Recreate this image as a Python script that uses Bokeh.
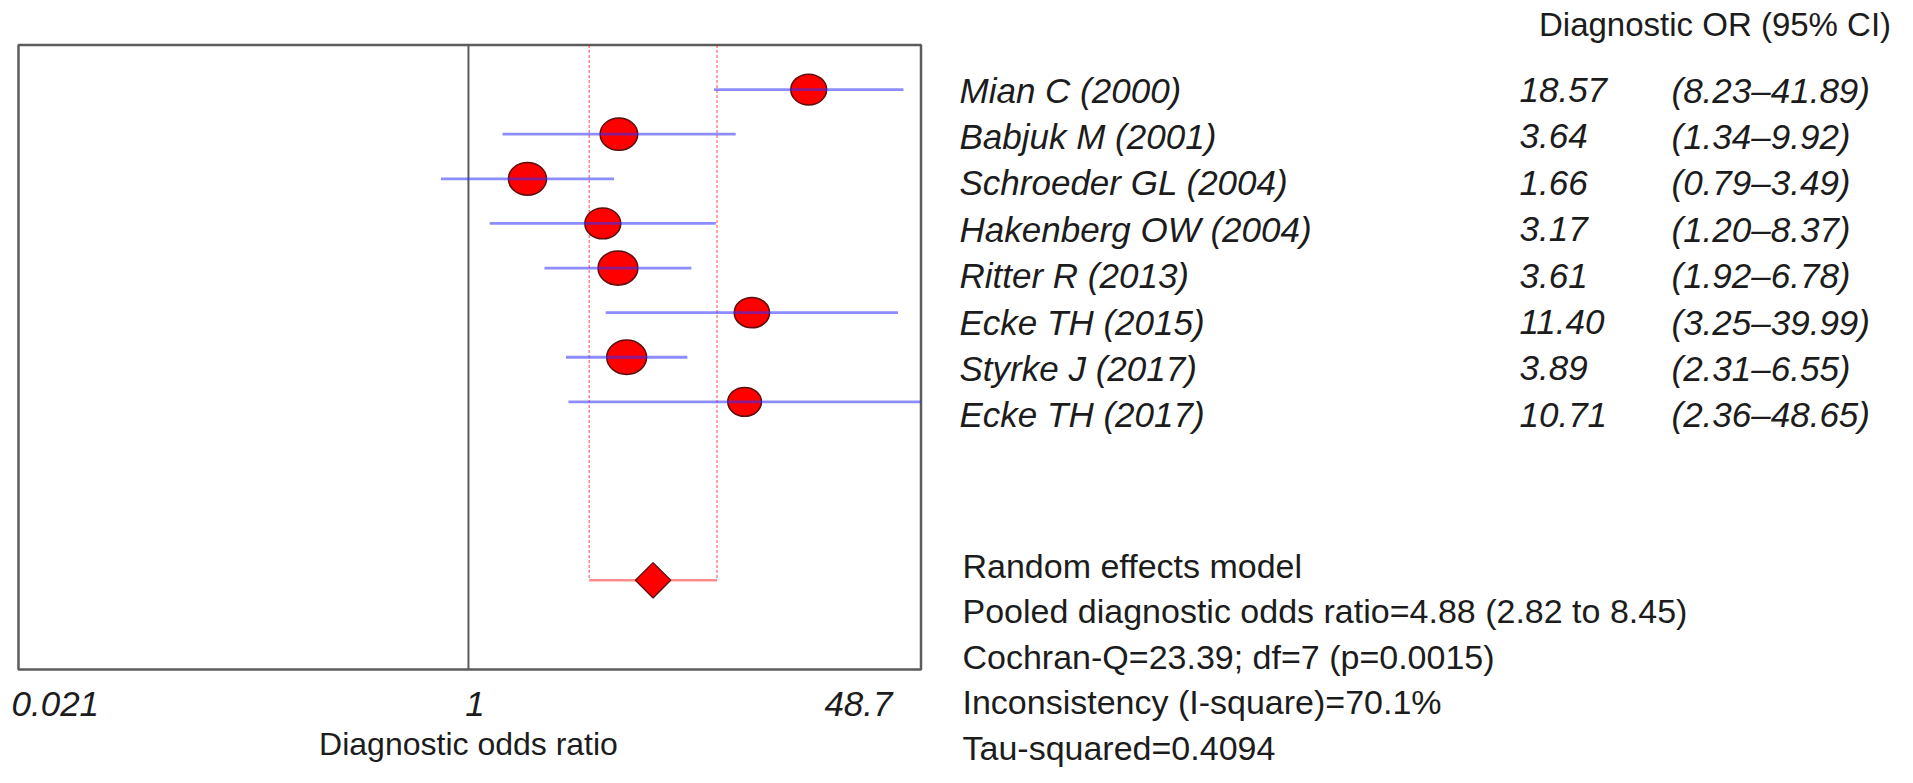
import numpy as np
from bokeh.plotting import figure
from bokeh.models import Range1d
from bokeh.embed import file_html
from bokeh.resources import INLINE
from bokeh.core.properties import value

# ---------------- data ----------------
studies = ["Mian C (2000)", "Babjuk M (2001)", "Schroeder GL (2004)", "Hakenberg OW (2004)",
           "Ritter R (2013)", "Ecke TH (2015)", "Styrke J (2017)", "Ecke TH (2017)"]
dor = [18.57, 3.64, 1.66, 3.17, 3.61, 11.40, 3.89, 10.71]
ci_low = [8.23, 1.34, 0.79, 1.20, 1.92, 3.25, 2.31, 2.36]
ci_high = [41.89, 9.92, 3.49, 8.37, 6.78, 39.99, 6.55, 48.65]
weights = [11.7, 12.8, 13.2, 11.7, 14.4, 11.3, 14.4, 10.3]   # relative study weights (%)
pooled, pooled_low, pooled_high = 4.88, 2.82, 8.45
axis_ticks = [0.021, 1, 48.7]
axis_tick_labels = ["0.021", "1", "48.7"]
axis_title = "Diagnostic odds ratio"
table_header = "Diagnostic OR (95% CI)"
summary_lines = ["Random effects model",
                 "Pooled diagnostic odds ratio=4.88 (2.82 to 8.45)",
                 "Cochran-Q=23.39; df=7 (p=0.0015)",
                 "Inconsistency (I-square)=70.1%",
                 "Tau-squared=0.4094"]

# ---------------- layout (canvas pixels) ----------------
W, H = 1897, 767
BOX_L, BOX_R = 18.0, 920.5
BOX_T, BOX_B = 44.5, 669.0
ROW_TOP, ROW_BOT = -1.0, 13.0
FS = 33        # regular text
FS_IT = 35     # italic text
FONT = "Liberation Sans"
TXT = "#1c1c1c"

lx0, lx1 = np.log10(axis_ticks[0]), np.log10(axis_ticks[-1])
kx = (BOX_R - BOX_L) / (lx1 - lx0)
ky = (BOX_B - BOX_T) / (ROW_BOT - ROW_TOP)


def xpx(px):
    return 10 ** (lx0 + (px - BOX_L) / kx)


def ypx(py):
    return ROW_TOP + (py - BOX_T) / ky


p = figure(width=W, height=H, x_axis_type="log", title=None,
           x_range=Range1d(xpx(0), xpx(W)), y_range=Range1d(ypx(H), ypx(0)),
           output_backend="svg", toolbar_location=None,
           x_axis_location=None, y_axis_location=None, min_border=0,
           outline_line_color=None, background_fill_color="white",
           border_fill_color="white")
for g in p.grid:
    g.visible = False

rows = list(range(len(studies)))
pooled_row = 11

# plot box and null line
p.quad(left=[axis_ticks[0]], right=[axis_ticks[-1]], top=[ROW_TOP], bottom=[ROW_BOT],
       fill_color=None, line_color="#5c5c5c", line_width=2.5)
p.segment(x0=[1], x1=[1], y0=[ROW_TOP], y1=[ROW_BOT], line_color="#5c5c5c", line_width=2)

# pooled CI guides
p.segment(x0=[pooled_low, pooled_high], x1=[pooled_low, pooled_high],
          y0=[ROW_TOP, ROW_TOP], y1=[pooled_row, pooled_row],
          line_color="red", line_alpha=0.55, line_width=1.3, line_dash="3 2")
p.segment(x0=[pooled_low], x1=[pooled_high], y0=[pooled_row], y1=[pooled_row],
          line_color="red", line_alpha=0.45, line_width=2.5)
p.scatter(x=[pooled], y=[pooled_row], marker="square", angle=np.pi / 4, size=25,
          fill_color="red", line_color="#5a1010", line_width=1.3)

# study points
wpx = [10.5 * np.sqrt(w) for w in weights]
hpx = [0.86 * w for w in wpx]
p.ellipse(x=dor, y=rows, width=wpx, height=hpx, width_units="screen", height_units="screen",
          fill_color="red", line_color="#5a1010", line_width=1.5)
p.segment(x0=ci_low, x1=ci_high, y0=rows, y1=rows,
          line_color="#3030ff", line_alpha=0.55, line_width=2.8)

# axis tick labels & title
tick_base = ypx(703)
tick_common = dict(text_font=value(FONT), text_font_style="italic",
                   text_font_size=f"{FS_IT}px", text_baseline="alphabetic", text_color=TXT)
p.text(x=[axis_ticks[0]], y=[tick_base], text=[axis_tick_labels[0]], text_align="left",
       x_offset=-7, **tick_common)
p.text(x=[axis_ticks[1]], y=[tick_base], text=[axis_tick_labels[1]], text_align="center",
       x_offset=6.5, **tick_common)
p.text(x=[axis_ticks[2]], y=[tick_base], text=[axis_tick_labels[2]], text_align="right",
       x_offset=-28.5, **tick_common)
p.text(x=[xpx(468)], y=[ypx(743)], text=[axis_title], text_align="center",
       text_font=value(FONT), text_font_size="32px", text_baseline="alphabetic",
       text_color=TXT)

# right-hand table
TEXT_ROW0, TEXT_STEP = 77.0, 46.4   # cap-centre of first row, spacing (px)
cap_off = 0.358 * FS_IT
text_y = [ypx(TEXT_ROW0 + TEXT_STEP * r + cap_off) for r in rows]
val_txt = [f"{v:.2f}" for v in dor]
ci_txt = [f"({lo:.2f}\u2013{hi:.2f})" for lo, hi in zip(ci_low, ci_high)]
it_common = dict(text_font=value(FONT), text_font_size=f"{FS_IT}px", text_baseline="alphabetic",
                 text_color=TXT, text_align="left", text_font_style="italic")
p.text(x=[xpx(959)] * len(rows), y=text_y, text=studies, **it_common)
p.text(x=[xpx(1519)] * len(rows), y=text_y, text=val_txt, **it_common)
p.text(x=[xpx(1671)] * len(rows), y=text_y, text=ci_txt, **it_common)

p.text(x=[xpx(1538.5)], y=[ypx(23.5)], text=[table_header], text_font=value(FONT),
       text_font_size=f"{FS}px", text_baseline="alphabetic", text_color=TXT, text_align="left")

SUM0, SUM_STEP = 565.0, 45.5
p.text(x=[xpx(962)] * len(summary_lines),
       y=[ypx(SUM0 + SUM_STEP * i) for i in range(len(summary_lines))],
       text=summary_lines, text_font=value(FONT), text_font_size="34px",
       text_baseline="alphabetic", text_color=TXT, text_align="left")

open("out.html", "w").write(file_html(p, INLINE))
